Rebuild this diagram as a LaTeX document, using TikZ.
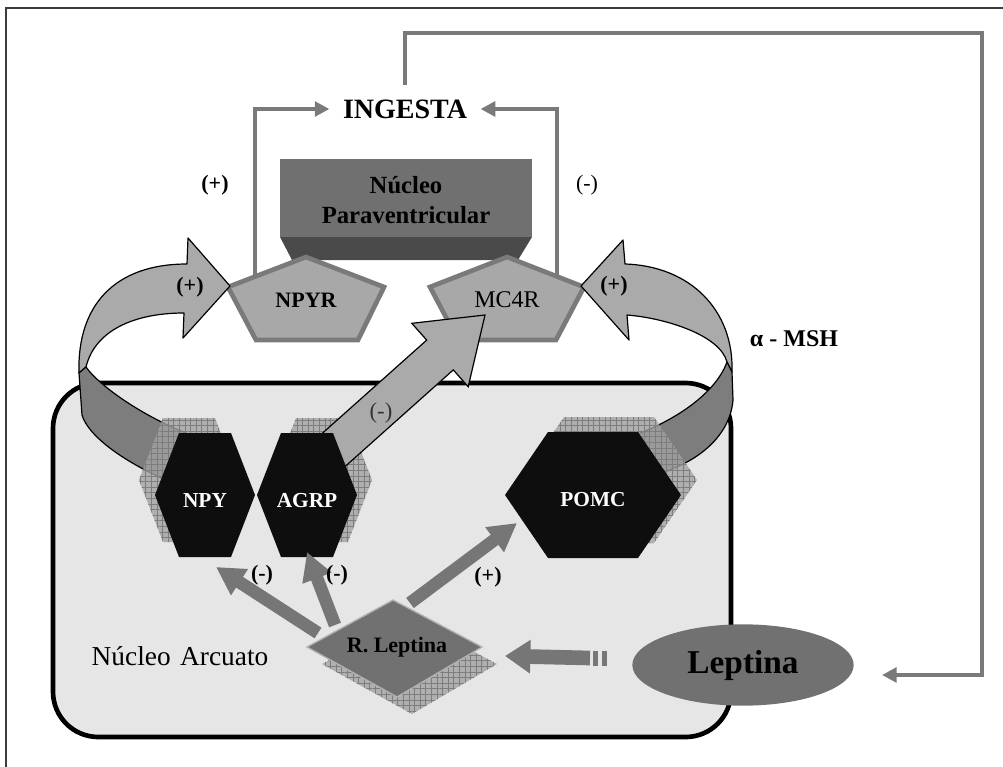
\documentclass[tikz,border=0pt]{standalone}
\usepackage{fontspec}
\setmainfont{Liberation Serif}
\usetikzlibrary{arrows.meta,shapes.geometric,patterns.meta}

\definecolor{lineg}{RGB}{122,122,122}
\definecolor{lightA}{RGB}{170,170,170}
\definecolor{darkB}{RGB}{125,125,125}
\definecolor{pvnF}{RGB}{112,112,112}
\definecolor{pvnB}{RGB}{74,74,74}
\definecolor{pentF}{RGB}{168,168,168}
\definecolor{pentD}{RGB}{122,122,122}
\definecolor{arcF}{RGB}{230,230,230}
\definecolor{hexF}{RGB}{14,14,14}
\definecolor{shadF}{RGB}{162,162,162}
\definecolor{gridC}{RGB}{125,125,125}
\definecolor{lepF}{RGB}{113,113,113}
\definecolor{arrG}{RGB}{118,118,118}
\definecolor{frameC}{RGB}{60,60,60}

\tikzset{
  feedline/.style={draw=lineg, line width=3pt, -{Triangle[length=11pt,width=11pt]}},
  pentagonbox/.style={fill=pentF, draw=pentD, line width=3.5pt, line join=miter},
  ribbonlight/.style={fill=lightA, draw=black, line width=0.9pt, line join=round},
  ribbondark/.style={fill=darkB, draw=black, line width=0.9pt, line join=round},
  hexshadow/.style={fill=shadF, fill opacity=0.8,
    postaction={pattern={Hatch[angle=0,distance=4.2pt,line width=0.3pt]}, pattern color=gridC, fill opacity=0.3}},
  hexcell/.style={fill=hexF},
  hextext/.style={text=white, font=\bfseries\fontsize{16}{19}\selectfont, inner sep=0pt},
  sign/.style={font=\bfseries\fontsize{16.5}{19}\selectfont, inner sep=0pt},
  lepArrow/.style={draw=arrG, line width=9.5pt, -{Triangle[length=21pt,width=22pt]}},
}

\begin{document}
\begin{tikzpicture}[x=0.75pt,y=-0.75pt]
\useasboundingbox (0,0) rectangle (1003,767);

% frame
\draw[frameC, line width=1.2pt] (1003,8) -- (6,8) -- (6,767);

% INGESTA and feedback lines
\node[font=\bfseries\fontsize{21}{24}\selectfont, inner xsep=10pt, inner ysep=3pt] (ing) at (405,109) {INGESTA};
\coordinate (npyrIn) at (255,277);
\coordinate (mcIn) at (557,277);
\coordinate (fbTR) at (982,33);
\coordinate (fbEnd) at (882,675);
\draw[feedline] (npyrIn) |- (ing.west);
\draw[feedline] (mcIn) |- (ing.east);
\draw[feedline] ([yshift=8pt]ing.north) |- (fbTR) |- (fbEnd);

% Nucleo paraventricular box
\fill[pvnF] (280,159) rectangle (532,237);
\fill[pvnB] (280,237) -- (532,237) -- (518,260) -- (292,260) -- cycle;
\node[align=center, font=\bfseries\fontsize{18.5}{22.5}\selectfont, text=black] (pvn) at (406,200) {Núcleo\\Paraventricular};

\node[sign] (plusTop) at (215,185) {(+)};
\node[font=\fontsize{16.5}{19}\selectfont, inner sep=0pt] (minusTop) at (587,185) {(-)};

% pentagons
\filldraw[pentagonbox, shift={(306,300)}] (0,-43) -- (78,-13) -- (52,40) -- (-50,40) -- (-78,-13) -- cycle;
\filldraw[pentagonbox, shift={(507,300)}] (0,-43) -- (77,-13) -- (49,40) -- (-49,40) -- (-77,-13) -- cycle;
\node[font=\bfseries\fontsize{16.5}{19}\selectfont] (npyr) at (306,300) {NPYR};
\node[font=\fontsize{18}{21}\selectfont] (mc4r) at (507,300) {MC4R};

% Nucleo arcuato
\draw[line width=3.5pt, fill=arcF, rounded corners=34pt] (53,383) rectangle (731,737);
\node[font=\fontsize{20.5}{24}\selectfont] (arc) at (180,656) {Núcleo\hspace{0.35em}Arcuato};

% left curved arrow
\filldraw[ribbonlight] (230,286) -- (183,338) -- (184,313) .. controls (135,313) and (95,330) .. (86,367)
  -- (79,373) .. controls (77,305) and (115,264) .. (187,264) -- (188,238) -- cycle;
\filldraw[ribbondark] (86,367) .. controls (100,387) and (150,422) .. (205,440) -- (170,482)
  .. controls (120,460) and (88,435) .. (82,415) -- (79,373) -- cycle;
\node[sign] (plusL) at (190,287) {(+)};

% right curved arrow
\filldraw[ribbonlight] (581,286) -- (629,340) -- (627,315) .. controls (665,318) and (720,335) .. (727,362)
  -- (732,372) .. controls (734,310) and (690,266) .. (625,264) -- (623,240) -- cycle;
\filldraw[ribbondark] (727,362) .. controls (715,395) and (670,425) .. (620,440) -- (655,475)
  .. controls (700,462) and (730,435) .. (733,400) -- (732,372) -- cycle;
\node[sign] (plusR) at (614,286) {(+)};

\node[font=\bfseries\fontsize{18}{21}\selectfont] (msh) at (794,339) {α - MSH};

% hexagon shadows
\fill[hexshadow, shift={(189,480)}] (-50,0) -- (-26,-62) -- (26,-62) -- (50,0) -- (26,62) -- (-26,62) -- cycle;
\fill[hexshadow, shift={(322,480)}] (-50,0) -- (-26,-62) -- (26,-62) -- (50,0) -- (26,62) -- (-26,62) -- cycle;
\fill[hexshadow, shift={(609,480)}] (-88,0) -- (-45,-63) -- (45,-63) -- (88,0) -- (45,63) -- (-45,63) -- cycle;

% big arrow AGRP -> MC4R
\filldraw[ribbonlight, line join=miter] (314.7,440.1) -- (426.7,340.1) -- (411.8,323.3) -- (485,315)
  -- (468.2,386.7) -- (453.3,369.9) -- (341.3,469.9) -- cycle;
\node[font=\fontsize{17}{20}\selectfont, text=black!80, inner sep=0pt] (minusBig) at (381,413) {(-)};

% hexagons
\fill[hexcell, shift={(205,495)}] (-50,0) -- (-26,-62) -- (26,-62) -- (50,0) -- (26,62) -- (-26,62) -- cycle;
\fill[hexcell, shift={(307,495)}] (-50,0) -- (-26,-62) -- (26,-62) -- (50,0) -- (26,62) -- (-26,62) -- cycle;
\fill[hexcell, shift={(593,495)}] (-88,0) -- (-45,-63) -- (45,-63) -- (88,0) -- (45,63) -- (-45,63) -- cycle;
\node[hextext] (npy) at (205,501) {NPY};
\node[hextext] (agrp) at (307,501) {AGRP};
\node[hextext] (pomc) at (593,500) {POMC};

% arrows from R. Leptina
\coordinate (a1s) at (318,633);
\coordinate (a1e) at (216,567);
\coordinate (a2s) at (335,625);
\coordinate (a2e) at (307,552);
\coordinate (a3s) at (410,603);
\coordinate (a3e) at (517,523);
\draw[lepArrow] (a1s) -- (a1e);
\draw[lepArrow] (a2s) -- (a2e);
\draw[lepArrow] (a3s) -- (a3e);
\node[sign] (m1) at (262,575) {(-)};
\node[sign] (m2) at (337,575) {(-)};
\node[sign] (p3) at (488,577) {(+)};

% R. Leptina diamond
\fill[hexshadow] (408,617) -- (497,664) -- (412,714) -- (322,664) -- cycle;
\filldraw[fill=lepF, draw=gray!60, line width=1pt] (393,600) -- (482,647) -- (397,697) -- (307,647) -- cycle;
\node[font=\bfseries\fontsize{16.5}{19}\selectfont] (rlep) at (397,647) {R. Leptina};

% Leptina
\node[ellipse, fill=lepF, minimum width=166pt, minimum height=61pt, inner sep=0pt,
      font=\bfseries\fontsize{25}{30}\selectfont] (lep) at (743,665) {Leptina};
\coordinate (lArrS) at (590,658);
\coordinate (lArrE) at (505,656);
\draw[draw=arrG, line width=11pt, -{Triangle[length=19pt,width=24pt]}] (lArrS) -- (lArrE);
\fill[arrG] (593,651) rectangle (598,666);
\fill[arrG] (602,651) rectangle (607,666);

\end{tikzpicture}
\end{document}
